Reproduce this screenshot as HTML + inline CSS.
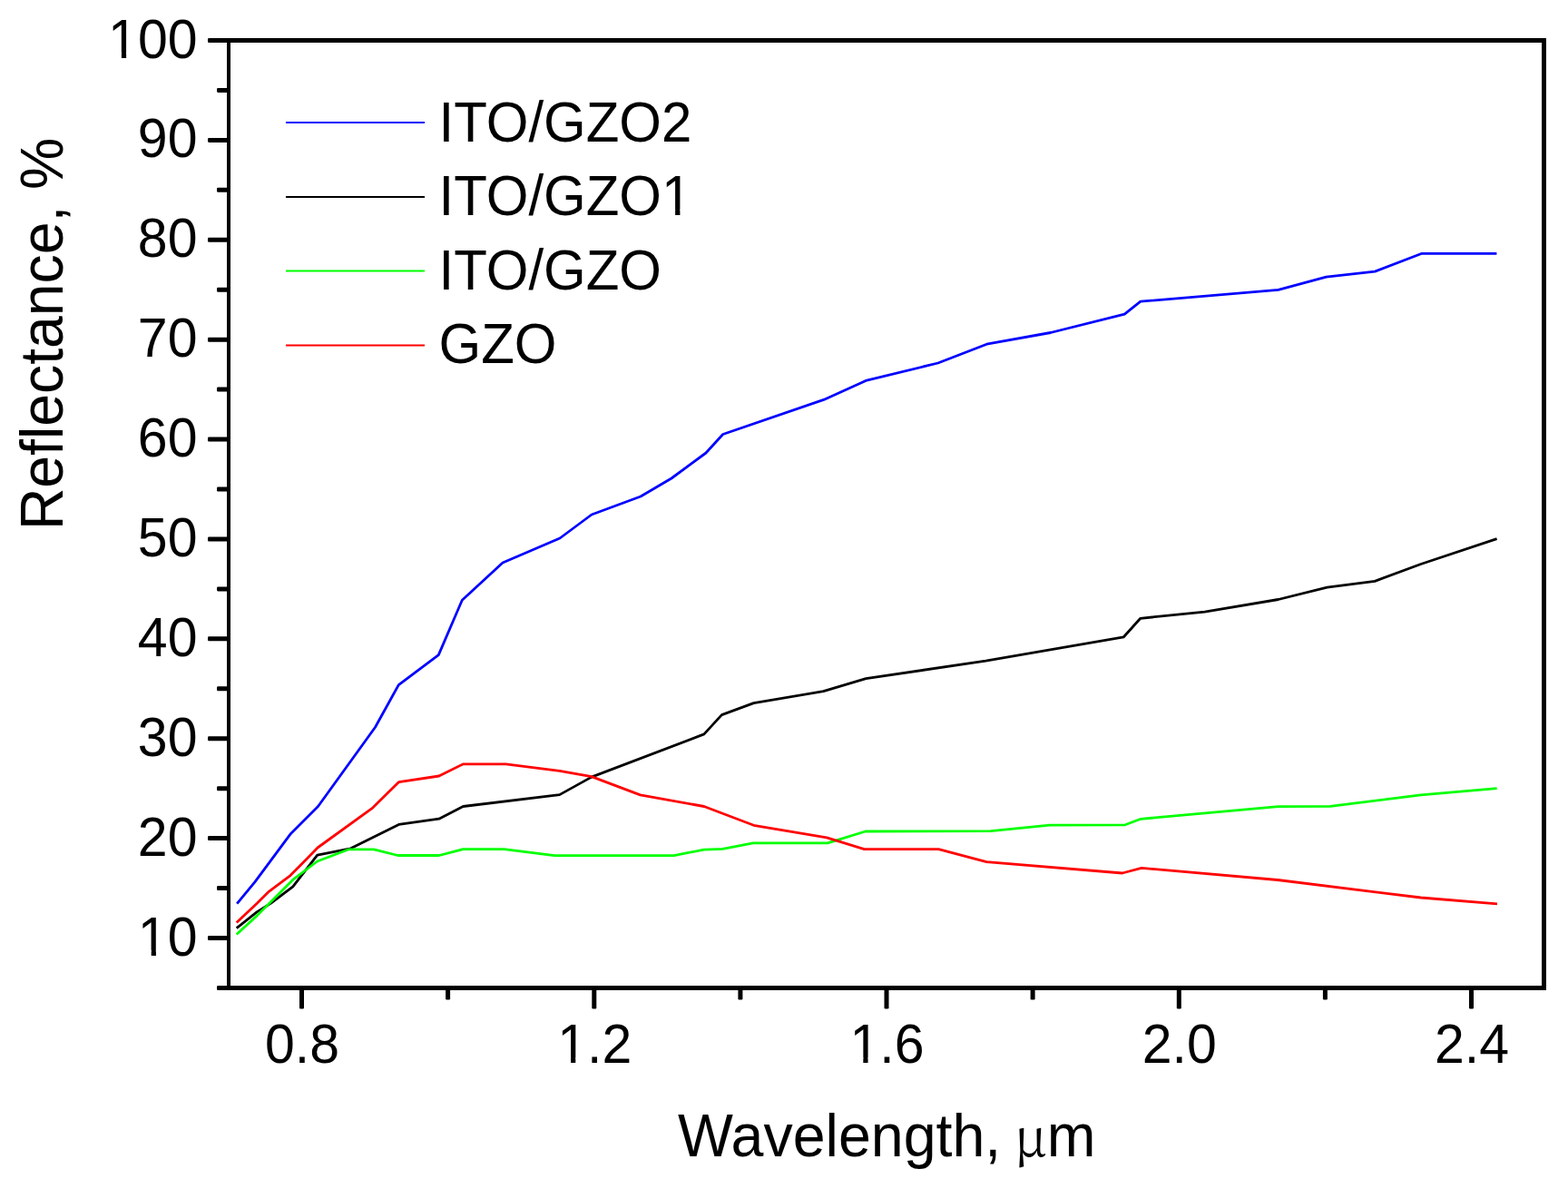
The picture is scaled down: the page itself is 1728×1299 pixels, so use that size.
<!DOCTYPE html><html><head><meta charset="utf-8"><title>Reflectance vs Wavelength</title><style>html,body{margin:0;padding:0;background:#fff;}svg{display:block;}text{font-family:"Liberation Sans", Arial, sans-serif;fill:#000;}</style></head><body>
<svg width="1728" height="1299" viewBox="0 0 1728 1299">
<rect x="0" y="0" width="1728" height="1299" fill="#fff"/>
<g fill="none" stroke-width="2.8" stroke-linejoin="round" stroke-linecap="butt">
<polyline stroke="#00f" points="261.2,995.6 281.0,971.7 320.5,918.4 350.5,888.5 413.5,801.2 439.3,754.6 483.3,721.6 509.3,661.2 554.0,620.0 617.0,593.0 652.0,567.0 706.0,547.0 740.0,527.0 778.0,499.0 796.7,478.5 907.8,440.4 954.1,419.4 1033.7,400.0 1087.4,379.2 1157.8,366.5 1239.3,346.1 1256.9,332.2 1408.7,319.4 1461.5,305.2 1515.2,299.1 1567.0,279.3 1649.4,279.3"/>
<polyline stroke="#000" points="260.7,1022.7 283.0,1004.9 298.6,995.1 322.8,976.8 349.7,942.1 386.5,934.8 439.5,908.4 483.8,902.2 510.4,888.5 616.7,875.6 651.9,856.1 775.9,808.9 795.4,787.6 830.6,774.6 907.4,761.7 954.3,747.7 1086.3,728.1 1238.4,701.8 1256.8,681.3 1327.6,674.1 1408.7,660.5 1462.6,647.2 1515.1,640.4 1565.9,621.5 1649.6,593.7"/>
<polyline stroke="#0f0" points="260.7,1029.5 283.0,1009.1 323.6,968.6 349.6,949.0 384.5,935.8 412.0,935.8 438.5,942.5 484.0,942.5 510.2,935.7 555.6,935.7 611.1,942.6 742.6,942.6 775.9,936.1 796.3,935.4 830.0,928.9 912.0,928.9 953.8,916.0 1091.9,915.7 1156.7,909.1 1240.0,908.8 1257.3,902.3 1408.7,888.6 1466.0,888.4 1566.0,875.8 1649.6,868.7"/>
<polyline stroke="#f00" points="260.7,1016.4 283.0,995.6 296.6,982.1 320.0,964.6 337.6,946.8 350.0,934.0 411.0,889.8 439.6,861.6 483.8,855.0 510.2,841.9 557.4,841.9 616.7,849.3 651.9,855.6 705.6,875.9 775.9,888.5 830.6,909.3 911.1,922.8 952.5,935.6 1034.4,935.6 1087.2,949.7 1236.8,962.0 1258.0,956.3 1408.0,969.5 1566.0,989.0 1650.0,995.8"/>
</g>
<g fill="#000">
<rect x="250" y="42" width="4" height="1049"/>
<rect x="250" y="42" width="1454" height="5"/>
<rect x="1699" y="42" width="5" height="1049"/>
<rect x="250" y="1086" width="1454" height="5"/>
</g>
<g fill="#000">
<rect x="239" y="1086.0" width="13" height="5" rx="1.3"/>
<rect x="229" y="1031.0" width="23" height="5" rx="1.3"/>
<rect x="239" y="976.1" width="13" height="5" rx="1.3"/>
<rect x="229" y="921.1" width="23" height="5" rx="1.3"/>
<rect x="239" y="866.2" width="13" height="5" rx="1.3"/>
<rect x="229" y="811.2" width="23" height="5" rx="1.3"/>
<rect x="239" y="756.3" width="13" height="5" rx="1.3"/>
<rect x="229" y="701.3" width="23" height="5" rx="1.3"/>
<rect x="239" y="646.4" width="13" height="5" rx="1.3"/>
<rect x="229" y="591.5" width="23" height="5" rx="1.3"/>
<rect x="239" y="536.5" width="13" height="5" rx="1.3"/>
<rect x="229" y="481.6" width="23" height="5" rx="1.3"/>
<rect x="239" y="426.6" width="13" height="5" rx="1.3"/>
<rect x="229" y="371.7" width="23" height="5" rx="1.3"/>
<rect x="239" y="316.7" width="13" height="5" rx="1.3"/>
<rect x="229" y="261.8" width="23" height="5" rx="1.3"/>
<rect x="239" y="206.8" width="13" height="5" rx="1.3"/>
<rect x="229" y="151.9" width="23" height="5" rx="1.3"/>
<rect x="239" y="96.9" width="13" height="5" rx="1.3"/>
<rect x="229" y="42.0" width="23" height="5" rx="1.3"/>
<rect x="330.0" y="1088" width="5" height="23.5" rx="1.3"/>
<rect x="491.1" y="1088" width="5" height="13.5" rx="1.3"/>
<rect x="652.3" y="1088" width="5" height="23.5" rx="1.3"/>
<rect x="813.4" y="1088" width="5" height="13.5" rx="1.3"/>
<rect x="974.5" y="1088" width="5" height="23.5" rx="1.3"/>
<rect x="1135.6" y="1088" width="5" height="13.5" rx="1.3"/>
<rect x="1296.8" y="1088" width="5" height="23.5" rx="1.3"/>
<rect x="1457.9" y="1088" width="5" height="13.5" rx="1.3"/>
<rect x="1619.0" y="1088" width="5" height="23.5" rx="1.3"/>
</g>
<g font-size="59" text-anchor="end">
<text transform="translate(217.5,1052.5) scale(1,1.040)">10</text>
<text transform="translate(217.5,942.6) scale(1,1.040)">20</text>
<text transform="translate(217.5,832.7) scale(1,1.040)">30</text>
<text transform="translate(217.5,722.8) scale(1,1.040)">40</text>
<text transform="translate(217.5,613.0) scale(1,1.040)">50</text>
<text transform="translate(217.5,503.1) scale(1,1.040)">60</text>
<text transform="translate(217.5,393.2) scale(1,1.040)">70</text>
<text transform="translate(217.5,283.3) scale(1,1.040)">80</text>
<text transform="translate(217.5,173.4) scale(1,1.040)">90</text>
<text transform="translate(217.5,63.5) scale(1,1.040)">100</text>
</g>
<g font-size="59" text-anchor="middle">
<text transform="translate(333.0,1171) scale(1,1.040)">0.8</text>
<text transform="translate(655.2,1171) scale(1,1.040)">1.2</text>
<text transform="translate(977.5,1171) scale(1,1.040)">1.6</text>
<text transform="translate(1299.8,1171) scale(1,1.040)">2.0</text>
<text transform="translate(1622.0,1171) scale(1,1.040)">2.4</text>
</g>
<g stroke-width="2">
<line x1="315" y1="135.0" x2="468" y2="135.0" stroke="#00f"/>
<line x1="315" y1="217.0" x2="468" y2="217.0" stroke="#000"/>
<line x1="315" y1="298.5" x2="468" y2="298.5" stroke="#0f0"/>
<line x1="315" y1="380.5" x2="468" y2="380.5" stroke="#f00"/>
</g>
<g font-size="60">
<text transform="translate(483.5,156.0) scale(1,1.040)">ITO/GZO2</text>
<text transform="translate(483.5,236.5) scale(1,1.040)">ITO/GZO1</text>
<text transform="translate(483.5,319.0) scale(1,1.040)">ITO/GZO</text>
<text transform="translate(483.5,400.0) scale(1,1.040)">GZO</text>
</g>
<text font-size="64.3" text-anchor="middle" transform="translate(68.9,367.9) rotate(-90) scale(1,1.040)">Reflectance, %</text>
<text font-size="64.5" transform="translate(747.1,1273.75) scale(1,1.040)">Wavelength, <tspan x="370.6" font-size="57" font-family="Noto Serif CJK SC, Liberation Serif, serif">&#956;</tspan><tspan x="406.6">m</tspan></text>
<g fill="#fff"><rect x="155.57" y="1046.83" width="11.14" height="6.48"/><rect x="171.92" y="1046.83" width="10.68" height="6.48"/><rect x="122.76" y="57.82" width="11.14" height="6.48"/><rect x="139.11" y="57.82" width="10.68" height="6.48"/><rect x="617.94" y="1165.32" width="11.14" height="6.48"/><rect x="634.29" y="1165.32" width="10.68" height="6.48"/><rect x="940.19" y="1165.32" width="11.14" height="6.48"/><rect x="956.54" y="1165.32" width="10.68" height="6.48"/><rect x="732.80" y="230.74" width="11.32" height="6.56"/><rect x="749.42" y="230.74" width="10.85" height="6.56"/></g>
</svg></body></html>
